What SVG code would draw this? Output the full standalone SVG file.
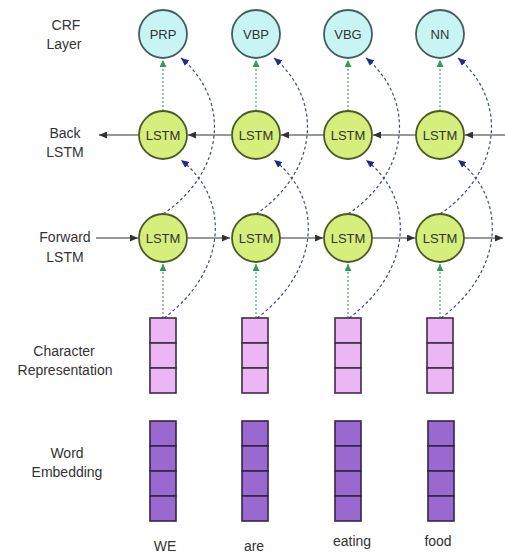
<svg xmlns="http://www.w3.org/2000/svg" width="505" height="553" viewBox="0 0 505 553">
<style>
text{font-family:"Liberation Sans",Arial,sans-serif;fill:#333;}
.lbl{font-size:14px;text-anchor:middle;}
.nt{font-size:13px;text-anchor:middle;}
.crf{fill:#c8f5f3;stroke:#445f5e;stroke-width:1.8;}
.lstm{fill:#d5ee7c;stroke:#4d5a25;stroke-width:1.8;}
.ch{fill:#ebb6f3;stroke:#3f2d45;stroke-width:1.6;}
.we{fill:#9a69cf;stroke:#35244a;stroke-width:1.6;}
.h{stroke:#333;stroke-width:1.2;fill:none;marker-end:url(#ak);}
.g{stroke:#3a9c60;stroke-width:1.1;stroke-dasharray:2,2;fill:none;marker-end:url(#ag);}
.b{stroke:#3b47a0;stroke-width:1.2;stroke-dasharray:3,2.5;fill:none;marker-end:url(#ab);}
</style>
<defs>
<marker id="ak" markerWidth="8" markerHeight="7" refX="8" refY="3.5" orient="auto" markerUnits="userSpaceOnUse"><path d="M0,0 L8,3.5 L0,7 z" fill="#333"/></marker>
<marker id="ag" markerWidth="7" markerHeight="7" refX="7" refY="3.5" orient="auto" markerUnits="userSpaceOnUse"><path d="M0,0 L7,3.5 L0,7 z" fill="#2e9a55"/></marker>
<marker id="ab" markerWidth="8" markerHeight="7" refX="8" refY="3.5" orient="auto" markerUnits="userSpaceOnUse"><path d="M0,0 L8,3.5 L0,7 z" fill="#1f2a8c"/></marker>
</defs>

<g id="labels">
<text class="lbl" x="66" y="30">CRF</text>
<text class="lbl" x="64" y="49">Layer</text>
<text class="lbl" x="65" y="138">Back</text>
<text class="lbl" x="65" y="157">LSTM</text>
<text class="lbl" x="65" y="242">Forward</text>
<text class="lbl" x="65" y="262">LSTM</text>
<text class="lbl" x="64" y="356">Character</text>
<text class="lbl" x="65" y="375">Representation</text>
<text class="lbl" x="67" y="458">Word</text>
<text class="lbl" x="67" y="477">Embedding</text>
</g>

<g id="connectors">
<!-- back LSTM arrows (leftward) -->
<line class="h" x1="505" y1="135" x2="465" y2="135"/>
<line class="h" x1="416" y1="135" x2="373" y2="135"/>
<line class="h" x1="324" y1="135" x2="281" y2="135"/>
<line class="h" x1="231" y1="135" x2="188" y2="135"/>
<line class="h" x1="139" y1="135" x2="99" y2="135"/>
<!-- forward LSTM arrows (rightward) -->
<line class="h" x1="96" y1="238" x2="138" y2="238"/>
<line class="h" x1="188" y1="238" x2="230" y2="238"/>
<line class="h" x1="280" y1="238" x2="323" y2="238"/>
<line class="h" x1="372" y1="238" x2="415" y2="238"/>
<line class="h" x1="464" y1="238" x2="503" y2="238"/>
<!-- green dotted -->
<line class="g" x1="163" y1="111" x2="163" y2="60"/>
<line class="g" x1="256" y1="111" x2="256" y2="60"/>
<line class="g" x1="348" y1="111" x2="348" y2="60"/>
<line class="g" x1="440" y1="111" x2="440" y2="60"/>
<line class="g" x1="163" y1="318" x2="163" y2="264"/>
<line class="g" x1="256" y1="318" x2="256" y2="264"/>
<line class="g" x1="348" y1="318" x2="348" y2="264"/>
<line class="g" x1="440" y1="318" x2="440" y2="264"/>
<!-- blue dashed curves: forward LSTM -> CRF -->
<path class="b" d="M163,214 C225,172 231,100 181,58"/>
<path class="b" d="M256,214 C318,172 324,100 274,58"/>
<path class="b" d="M348,214 C410,172 416,100 366,58"/>
<path class="b" d="M440,214 C502,172 508,100 458,58"/>
<!-- blue dashed curves: char rep -> back LSTM -->
<path class="b" d="M164,318 C226,272 232,200 181,160"/>
<path class="b" d="M257,318 C319,272 325,200 274,160"/>
<path class="b" d="M349,318 C411,272 417,200 366,160"/>
<path class="b" d="M441,318 C503,272 509,200 458,160"/>
</g>

<g id="crf-prp"><circle class="crf" cx="163" cy="34" r="24"/><text class="nt" x="163" y="39">PRP</text></g>
<g id="crf-vbp"><circle class="crf" cx="256" cy="34" r="24"/><text class="nt" x="256" y="39">VBP</text></g>
<g id="crf-vbg"><circle class="crf" cx="348" cy="34" r="24"/><text class="nt" x="348" y="39">VBG</text></g>
<g id="crf-nn"><circle class="crf" cx="440" cy="34" r="24"/><text class="nt" x="440" y="39">NN</text></g>

<g id="back-1"><circle class="lstm" cx="163" cy="135" r="24"/><text class="nt" x="163" y="140">LSTM</text></g>
<g id="back-2"><circle class="lstm" cx="256" cy="135" r="24"/><text class="nt" x="256" y="140">LSTM</text></g>
<g id="back-3"><circle class="lstm" cx="348" cy="135" r="24"/><text class="nt" x="348" y="140">LSTM</text></g>
<g id="back-4"><circle class="lstm" cx="440" cy="135" r="24"/><text class="nt" x="440" y="140">LSTM</text></g>

<g id="fwd-1"><circle class="lstm" cx="163" cy="238" r="24"/><text class="nt" x="163" y="243">LSTM</text></g>
<g id="fwd-2"><circle class="lstm" cx="256" cy="238" r="24"/><text class="nt" x="256" y="243">LSTM</text></g>
<g id="fwd-3"><circle class="lstm" cx="348" cy="238" r="24"/><text class="nt" x="348" y="243">LSTM</text></g>
<g id="fwd-4"><circle class="lstm" cx="440" cy="238" r="24"/><text class="nt" x="440" y="243">LSTM</text></g>

<g id="char-1"><rect class="ch" x="150" y="318" width="26" height="25"/><rect class="ch" x="150" y="343" width="26" height="25"/><rect class="ch" x="150" y="368" width="26" height="25"/></g>
<g id="char-2"><rect class="ch" x="242" y="318" width="26" height="25"/><rect class="ch" x="242" y="343" width="26" height="25"/><rect class="ch" x="242" y="368" width="26" height="25"/></g>
<g id="char-3"><rect class="ch" x="335" y="318" width="26" height="25"/><rect class="ch" x="335" y="343" width="26" height="25"/><rect class="ch" x="335" y="368" width="26" height="25"/></g>
<g id="char-4"><rect class="ch" x="427" y="318" width="26" height="25"/><rect class="ch" x="427" y="343" width="26" height="25"/><rect class="ch" x="427" y="368" width="26" height="25"/></g>

<g id="emb-1"><rect class="we" x="150" y="421" width="26" height="25"/><rect class="we" x="150" y="446" width="26" height="25"/><rect class="we" x="150" y="471" width="26" height="25"/><rect class="we" x="150" y="496" width="26" height="25"/></g>
<g id="emb-2"><rect class="we" x="242" y="421" width="26" height="25"/><rect class="we" x="242" y="446" width="26" height="25"/><rect class="we" x="242" y="471" width="26" height="25"/><rect class="we" x="242" y="496" width="26" height="25"/></g>
<g id="emb-3"><rect class="we" x="335" y="421" width="26" height="25"/><rect class="we" x="335" y="446" width="26" height="25"/><rect class="we" x="335" y="471" width="26" height="25"/><rect class="we" x="335" y="496" width="26" height="25"/></g>
<g id="emb-4"><rect class="we" x="428" y="421" width="26" height="25"/><rect class="we" x="428" y="446" width="26" height="25"/><rect class="we" x="428" y="471" width="26" height="25"/><rect class="we" x="428" y="496" width="26" height="25"/></g>

<g id="words">
<text class="lbl" x="165" y="551">WE</text>
<text class="lbl" x="254" y="551">are</text>
<text class="lbl" x="352" y="546">eating</text>
<text class="lbl" x="438" y="546">food</text>
</g>
</svg>
